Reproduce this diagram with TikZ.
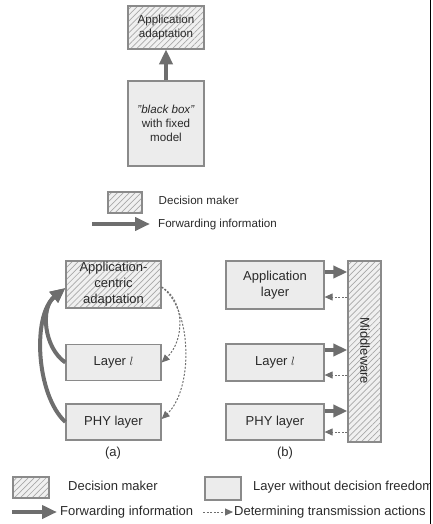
\documentclass[tikz,border=0pt]{standalone}
\usepackage{fontspec}
\setmainfont{Liberation Sans}
\usetikzlibrary{arrows.meta,patterns.meta,calc}
\definecolor{boxfill}{HTML}{ECECEC}
\definecolor{boxline}{HTML}{8A8A8A}
\definecolor{hatchbg}{HTML}{F0F0F0}
\definecolor{hatchln}{HTML}{A8A8A8}
\definecolor{arrowgray}{HTML}{6E6E6E}
\definecolor{txt}{HTML}{2A2A2A}
\newcommand{\bigtxt}{\fontsize{13bp}{16bp}\selectfont}
\newcommand{\smalltxt}{\fontsize{11.6bp}{14bp}\selectfont}
\tikzset{
  plainbox/.style={draw=boxline, fill=boxfill, line width=1.2bp, inner sep=0pt,
    align=center, text=txt},
  hatchbox/.style={draw=boxline, line width=1.2bp, inner sep=0pt, align=center, text=txt,
    preaction={fill=hatchbg},
    pattern={Lines[angle=45, distance=4.2bp, line width=0.7bp]}, pattern color=hatchln},
  legtext/.style={anchor=west, inner sep=0pt, text=txt, text height=0.716em, text depth=0pt},
  fwd/.style={draw=arrowgray, line width=4bp, -{Triangle[length=15bp, width=13bp]}},
  fwdshort/.style={draw=arrowgray, line width=4bp, -{Triangle[length=14bp, width=12bp]}},
  det/.style={draw=arrowgray, line width=1bp, dash pattern=on 2bp off 1.6bp,
    -{Triangle[length=8bp, width=7bp]}},
}
\begin{document}
\begin{tikzpicture}[x=1bp, y=-1bp]
\useasboundingbox (0,0) rectangle (433,524);
\begin{scope}
\clip (0,0) rectangle (429.5,524);

% ---- upper figure: black-box model ----
\node[hatchbox, minimum width=76bp, minimum height=43bp, font=\smalltxt] (ua) at (166,27.5)
  {Application\\adaptation};
\node[plainbox, minimum width=76bp, minimum height=85bp, font=\smalltxt] (ub) at (166,123.5)
  {\textit{"black box"}\\with fixed\\model};
\draw[fwd] (ub.north) -- (ua.south);

% upper legend
\node[hatchbox, minimum width=34bp, minimum height=21bp] (uleg1) at (125,202.5) {};
\node[legtext, font=\smalltxt] (uleg1t) at (158.5,201) {Decision maker};
\coordinate (uleg2a) at (92,224);
\coordinate (uleg2b) at (150,224);
\draw[fwd] (uleg2a) -- (uleg2b);
\node[legtext, font=\smalltxt] (uleg2t) at (158,224) {Forwarding information};

% ---- (a) application-centric adaptation ----
\node[hatchbox, minimum width=95bp, minimum height=47bp, font=\bigtxt] (ac) at (113.5,284.5)
  {Application-\\centric\\adaptation};
\node[plainbox, minimum width=95bp, minimum height=36bp, font=\bigtxt] (al) at (113.5,362.5)
  {Layer $l$};
\node[plainbox, minimum width=95bp, minimum height=36bp, font=\bigtxt] (ap) at (113.5,422)
  {PHY layer};
\node[font=\bigtxt, text=txt, inner sep=0pt] (alab) at (113,453) {(a)};

\coordinate (acin) at ($(ac.west)+(0,3.5)$);
\coordinate (acout) at ($(ac.east)+(0,2.5)$);
\draw[fwd] (al.west) .. controls (44,348) and (40,308) .. (acin);
\draw[fwd] (ap.west) .. controls (36,395) and (32,315) .. (acin);
\draw[det] (acout) .. controls (185,300) and (185,340) .. (al.east);
\draw[det] (acout) .. controls (193,310) and (193,390) .. ($(ap.east)+(0,-3)$);

% ---- (b) middleware ----
\node[plainbox, minimum width=98bp, minimum height=48bp, font=\bigtxt] (bapp) at (275,285)
  {Application\\layer};
\node[plainbox, minimum width=98bp, minimum height=37bp, font=\bigtxt] (bl) at (275,362.5)
  {Layer $l$};
\node[plainbox, minimum width=98bp, minimum height=36bp, font=\bigtxt] (bp) at (275,422)
  {PHY layer};
\node[hatchbox, minimum width=33bp, minimum height=181bp] (mw) at (364.5,351.5) {};
\node[font=\bigtxt, text=txt, rotate=-90, inner sep=0pt] (mwl) at (365,351) {Middleware};
\node[font=\bigtxt, text=txt, inner sep=0pt] (blab) at (285,453) {(b)};

\coordinate (bapps) at ([yshift=13bp]bapp.east);
\coordinate (bappd) at ([yshift=-12bp]bapp.east);
\coordinate (bls) at ([yshift=12.5bp]bl.east);
\coordinate (bld) at ([yshift=-12.5bp]bl.east);
\coordinate (bps) at ([yshift=11bp]bp.east);
\coordinate (bpd) at ([yshift=-10bp]bp.east);
\draw[fwdshort] (bapps) -- (bapps -| mw.west);
\draw[det] (bappd -| mw.west) -- (bappd);
\draw[fwdshort] (bls) -- (bls -| mw.west);
\draw[det] (bld -| mw.west) -- (bld);
\draw[fwdshort] (bps) -- (bps -| mw.west);
\draw[det] (bpd -| mw.west) -- (bpd);

% ---- lower legend ----
\node[hatchbox, minimum width=36bp, minimum height=21bp] (lleg1) at (31,487.5) {};
\node[legtext, font=\bigtxt] (lleg1t) at (68,487) {Decision maker};
\node[plainbox, minimum width=36bp, minimum height=23bp] (lleg2) at (223,488.5) {};
\node[legtext, font=\bigtxt] (lleg2t) at (253,487) {Layer without decision freedom};
\coordinate (lleg3a) at (12,512);
\coordinate (lleg3b) at (57,512);
\draw[fwd] (lleg3a) -- (lleg3b);
\node[legtext, font=\bigtxt] (lleg3t) at (60,512) {Forwarding information};
\coordinate (lleg4a) at (203,512);
\coordinate (lleg4b) at (233,512);
\draw[det] (lleg4a) -- (lleg4b);
\node[legtext, font=\bigtxt] (lleg4t) at (234,512) {Determining transmission actions};
\end{scope}

% right border rule
\coordinate (rt) at (430.5,0);
\coordinate (rb) at (430.5,524);
\draw[line width=1.6bp, black] (rt) -- (rb);
\end{tikzpicture}
\end{document}
